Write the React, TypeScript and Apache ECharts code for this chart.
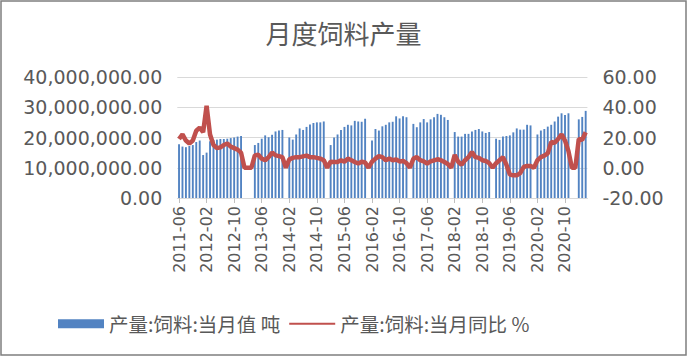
import React, { useEffect, useRef } from "react";
import * as echarts from "echarts";

// Categories: monthly from 2011-06 to 2021-04
const firstYear = 2011;
const firstMonth = 6;
const monthCount = 119;
const months: string[] = [];
for (let i = 0; i < monthCount; i++) {
  const m = firstMonth - 1 + i;
  const y = firstYear + Math.floor(m / 12);
  const mm = (m % 12) + 1;
  months.push(`${y}-${mm < 10 ? "0" + mm : mm}`);
}

const barName = "产量:饲料:当月值 吨";
const lineName = "产量:饲料:当月同比 %";

// 产量:饲料:当月值 (tons)
const output2011 = [17.8e6, 17.0e6, 16.8e6, 17.2e6, 17.5e6, 18.5e6, 19.0e6];
const output2012 = [14.2e6, 15.0e6, 18.8e6, 19.2e6, 19.3e6, 19.5e6, 19.5e6, 19.6e6, 19.8e6, 20.0e6, 20.3e6, 20.5e6];
const output2013 = [null, null, null, 17.5e6, 18.2e6, 19.6e6, 20.7e6, 20.1e6, 20.9e6, 22.0e6, 22.3e6, 22.5e6];
const output2014 = [null, 20.0e6, 19.3e6, 21.0e6, 23.0e6, 22.5e6, 23.5e6, 24.3e6, 24.8e6, 25.0e6, 25.0e6, 25.3e6];
const output2015 = [null, 17.5e6, 20.0e6, 21.0e6, 22.5e6, 23.5e6, 24.2e6, 24.0e6, 25.5e6, 25.3e6, 25.2e6, 26.2e6];
const output2016 = [null, 19.0e6, 22.8e6, 22.3e6, 23.7e6, 24.2e6, 25.0e6, 25.2e6, 27.0e6, 26.3e6, 27.0e6, 26.7e6];
const output2017 = [null, 24.5e6, 23.4e6, 25.0e6, 26.1e6, 25.0e6, 26.0e6, 26.7e6, 27.8e6, 27.5e6, 26.7e6, 25.8e6];
const output2018 = [null, 21.8e6, 20.3e6, 20.3e6, 21.2e6, 21.2e6, 22.0e6, 22.5e6, 22.8e6, 22.0e6, 21.5e6, 21.8e6];
const output2019 = [null, 19.6e6, 19.2e6, 20.3e6, 20.5e6, 20.7e6, 21.7e6, 23.0e6, 22.6e6, 22.6e6, 24.2e6, 24.0e6];
const output2020 = [null, 21.0e6, 22.3e6, 22.8e6, 23.6e6, 24.2e6, 25.3e6, 26.9e6, 28.0e6, 27.4e6, 28.0e6, null];
const output2021 = [null, 26.0e6, 26.8e6, 28.8e6];

// 产量:饲料:当月同比 (%)
const yoy2011 = [19, 22, 18, 16, 18, 24.5, 26.5];
const yoy2012 = [23.5, 41, 22, 15, 13, 13.5, 15, 16, 14, 13, 12, 10];
const yoy2013 = [0, 0, 0, 8.2, 8.6, 6, 5, 7, 10, 8.2, 7.7, 7];
const yoy2014 = [0, 5.5, 6.5, 7, 7, 7.5, 8, 7, 7, 6.5, 6, 5];
const yoy2015 = [0, 4, 3.8, 3.8, 4.9, 4, 6, 5, 3.8, 2.8, 4, 3.5];
const yoy2016 = [0, 4, 6, 7.7, 7, 5, 6, 5, 5.5, 4.2, 4.5, 3];
const yoy2017 = [0, 6, 7, 5, 4.2, 2.8, 4.2, 4.9, 5.6, 5, 3.8, 2.5];
const yoy2018 = [0, 8.5, 4, 2, 5, 7, 10.5, 7, 6.5, 5, 4.5, 3];
const yoy2019 = [0, 3, 5, 7, 2, -4.5, -5, -5, -3.5, 0.5, 1.2, 1.2];
const yoy2020 = [0, 5, 7, 8, 9.5, 17, 16.5, 19, 22, 18, 11, 0];
const yoy2021 = [0, 19, 18.5, 23.5];

const outputValues = [
  ...output2011, ...output2012, ...output2013, ...output2014, ...output2015, ...output2016,
  ...output2017, ...output2018, ...output2019, ...output2020, ...output2021,
];
const yoyValues = [
  ...yoy2011, ...yoy2012, ...yoy2013, ...yoy2014, ...yoy2015, ...yoy2016,
  ...yoy2017, ...yoy2018, ...yoy2019, ...yoy2020, ...yoy2021,
];

const leftTicks = { min: 0, max: 40000000, interval: 10000000 };
const rightTicks = { min: -20, max: 60, interval: 20 };

const fmtLeft = (v: number) =>
  v.toLocaleString("en-US", { minimumFractionDigits: 2, maximumFractionDigits: 2 });
const fmtRight = (v: number) => v.toFixed(2);

export default function App() {
  const ref = useRef<HTMLDivElement>(null);
  useEffect(() => {
    const chart = echarts.init(ref.current!, null, { renderer: "svg" });
    const grey = "#595959";
    chart.setOption({
      animation: false,
      backgroundColor: "#ffffff",
      title: {
        text: "月度饲料产量",
        left: "center",
        top: 14,
        textStyle: { fontSize: 26, fontWeight: "normal", color: grey, fontFamily: "Noto Sans CJK SC" },
      },
      grid: { left: 177.3, right: 99.6, top: 77, bottom: 158, containLabel: false },
      legend: {
        left: 53,
        top: 309,
        itemWidth: 46,
        itemHeight: 9,
        itemGap: 8,
        textStyle: { fontSize: 19.5, color: grey, fontFamily: "Noto Sans CJK SC" },
        data: [
          { name: barName, icon: "rect" },
          { name: lineName, itemStyle: { opacity: 0 } },
        ],
      },
      xAxis: {
        type: "category",
        data: months,
        boundaryGap: true,
        axisLine: { show: true, lineStyle: { color: "#d9d9d9", width: 1 } },
        axisTick: { show: true, interval: 7, alignWithLabel: true, length: 5, lineStyle: { color: "#bfbfbf" } },
        axisLabel: {
          interval: 7,
          rotate: 90,
          fontSize: 16,
          color: grey,
          fontFamily: "DejaVu Sans",
          margin: 8,
        },
      },
      yAxis: [
        {
          type: "value",
          ...leftTicks,
          axisLine: { show: false },
          axisTick: { show: false },
          splitLine: { show: true, lineStyle: { color: "#d9d9d9", width: 1 } },
          axisLabel: { formatter: fmtLeft, fontSize: 19, color: grey, fontFamily: "DejaVu Sans", margin: 15 },
        },
        {
          type: "value",
          ...rightTicks,
          position: "right",
          axisLine: { show: false },
          axisTick: { show: false },
          splitLine: { show: false },
          axisLabel: { formatter: fmtRight, fontSize: 19, color: grey, fontFamily: "DejaVu Sans", margin: 15 },
        },
      ],
      series: [
        {
          name: barName,
          type: "bar",
          data: outputValues,
          yAxisIndex: 0,
          barWidth: "55%",
          itemStyle: { color: "#5283c2" },
        },
        {
          name: lineName,
          type: "line",
          data: yoyValues,
          yAxisIndex: 1,
          symbol: "none",
          lineStyle: { color: "#c0504d", width: 4.5 },
          itemStyle: { color: "#c0504d" },
        },
      ],
      graphic: [
        {
          type: "rect",
          shape: { x: 1, y: 1, width: 685, height: 354 },
          style: { fill: "none", stroke: "#7f7f7f", lineWidth: 1.5 },
          silent: true,
        },
      ],
    });
    return () => chart.dispose();
  }, []);
  return (
    <div
      ref={ref}
      style={{ position: "absolute", left: 0, top: 0, width: 687, height: 356, background: "#fff" }}
    />
  );
}
